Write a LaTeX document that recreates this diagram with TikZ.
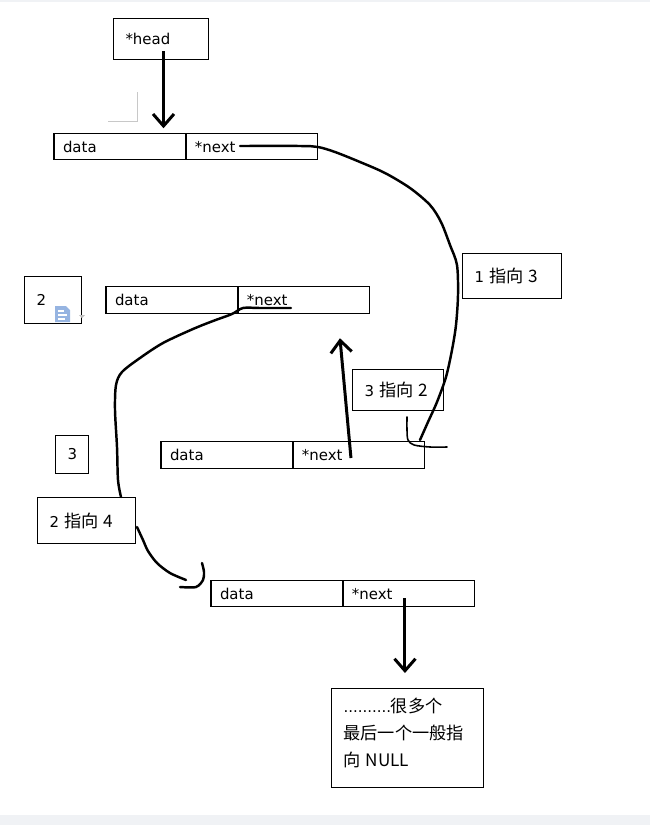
\documentclass[tikz,border=0pt]{standalone}
\usepackage{fontspec}
\setmainfont{DejaVu Sans}
\newfontfamily\cjk{Noto Sans CJK SC}[Scale=1.15]
\usetikzlibrary{arrows.meta, positioning}
\definecolor{markgray}{RGB}{200,200,200}
\definecolor{stripgray}{RGB}{240,242,245}
\definecolor{iconblue}{RGB}{150,180,225}

\begin{document}
\begin{tikzpicture}[x=0.02cm, y=-0.02cm, font=\fontsize{8.5}{10}\selectfont,
  cell/.style={draw, semithick, minimum height=0.53cm, text width=2.28cm, inner xsep=0.18cm,
    inner ysep=0pt, text height=1.5ex, text depth=0.3ex, align=left, outer sep=0pt},
  note/.style={draw, semithick, anchor=north west, inner xsep=0.24cm, align=left},
  link/.style={line width=1.4pt, line cap=round, line join=round},
  ptr/.style={line width=1.7pt, -{Straight Barb[length=2.4mm, width=4.2mm]}}]
  \useasboundingbox (0,0) rectangle (650,825);
  \fill[stripgray] (0,815) rectangle (650,825);
  \draw[stripgray, thick] (0,1) -- (650,1);

  \node[note, text width=1.42cm, minimum height=0.82cm] (head) at (113,18) {*head};
  \draw[markgray] (108,121) -- (137,121) -- (137,92);

  \node[cell] (data1) at (120,146.5) {data};
  \node[cell, right=0pt of data1] (next1) {*next};
  \node[cell] (data2) at (172,300) {data};
  \node[cell, right=0pt of data2] (next2) {*next};
  \node[cell] (data3) at (227,455) {data};
  \node[cell, right=0pt of data3] (next3) {*next};
  \node[cell] (data4) at (277,593.5) {data};
  \node[cell, right=0pt of data4] (next4) {*next};

  \node[note, text width=1.5cm, minimum height=0.9cm] (one3) at (462,253) {1 \cjk{指向} 3};
  \node[note, text width=0.66cm, minimum height=0.94cm] (two) at (24,276) {2};
  \node[note, text width=1.34cm, minimum height=0.82cm] (three2) at (352,369) {3 \cjk{指向} 2};
  \node[note, text width=0.18cm, minimum height=0.76cm] (three) at (55,435) {3};
  \node[note, text width=1.48cm, minimum height=0.92cm] (two4) at (37,497) {2 \cjk{指向} 4};
  \node[note, text width=2.56cm, minimum height=1.98cm, font=\fontsize{8.5}{15.3}\selectfont,
    execute at end node=\vspace{0.2cm}] (last) at (331,688)
    {..........\cjk{很多个}\\ \cjk{最后一个一般指}\\ \cjk{向} NULL};

  \fill[iconblue] (55,306) -- (66,306) -- (70,310) -- (70,322) -- (55,322) -- cycle;
  \draw[white, line width=0.8pt] (58,311) -- (64,311) (58,315) -- (67,315) (58,319) -- (65,319);
  \fill[gray!50] (79,315) -- (85,315) -- (82,318) -- cycle;

  \coordinate (hp) at ([xshift=0.05cm, yshift=0.18cm]head.south);
  \draw[ptr, shorten >=0.1cm] (hp) -- (hp |- data1.north);
  \coordinate (up3) at ([xshift=-0.16cm, yshift=-0.06cm]next3.center);
  \coordinate (up2) at ([xshift=0.72cm, yshift=-0.5cm]next2.south);
  \draw[ptr] (up3) -- (up2);
  \coordinate (dn4) at ([xshift=-0.08cm, yshift=-0.09cm]next4.center);
  \draw[ptr, shorten >=0.3cm] (dn4) -- (dn4 |- last.north);

  \draw[link] plot[smooth, tension=0.5] coordinates {(240,146) (300,146) (318,147) (335,152) (360,162)
    (385,173) (410,188) (430,205) (441,222) (450,245) (457,265) (458,295) (456,325) (452,350)
    (446,377) (437,402) (428,422) (420,440)};
  \draw[link, line width=0.9pt] plot[smooth, tension=0.5] coordinates {(407,417) (407,430) (408,440) (414,445) (430,447) (447,447)};
  \draw[link] plot[smooth, tension=0.5] coordinates {(291,308) (260,308) (243,308) (232,314) (213,321)
    (193,329) (163,343) (140,358) (122,372) (116,385) (115,410) (117,447) (118,480) (121,497)};
  \draw[link] plot[smooth, tension=0.5] coordinates {(137,527) (143,540) (148,551) (157,563) (170,573) (186,580)};
  \draw[link] plot[smooth, tension=0.5] coordinates {(180,587) (196,587) (203,580) (204,572) (202,563)};
\end{tikzpicture}
\end{document}
